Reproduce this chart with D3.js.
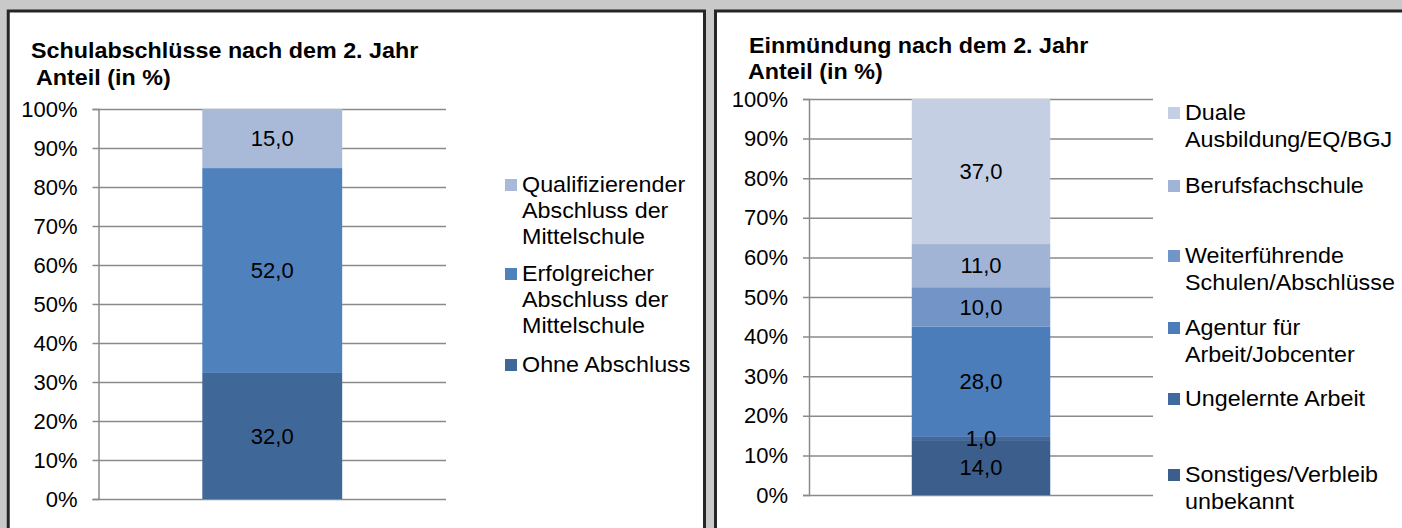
<!DOCTYPE html>
<html>
<head>
<meta charset="utf-8">
<script src="https://d3js.org/d3.v7.min.js"></script>
<style>
  body { margin: 0; background: #c9c9c9; }
  svg { display: block; font-family: "Liberation Sans", Arial, sans-serif; }
</style>
</head>
<body>
<svg width="1402" height="528"></svg>
<script>
// ---- data ----
var yTicks = [0, 10, 20, 30, 40, 50, 60, 70, 80, 90, 100];

// left chart: school leaving certificates, bottom to top
var schulKeys = ["Ohne Abschluss", "Erfolgreicher Abschluss der Mittelschule", "Qualifizierender Abschluss der Mittelschule"];
var schulValues = [32.0, 52.0, 15.0];
var schulLegend = [["Qualifizierender", "Abschluss der", "Mittelschule"], ["Erfolgreicher", "Abschluss der", "Mittelschule"], ["Ohne Abschluss"]];

// right chart: where the pupils went, bottom to top
var einKeys = ["Sonstiges/Verbleib unbekannt", "Ungelernte Arbeit", "Agentur für Arbeit/Jobcenter", "Weiterführende Schulen/Abschlüsse", "Berufsfachschule", "Duale Ausbildung/EQ/BGJ"];
var einValues = [14.0, 1.0, 28.0, 10.0, 11.0, 37.0];
var einLegend = [["Duale", "Ausbildung/EQ/BGJ"], ["Berufsfachschule"], ["Weiterführende", "Schulen/Abschlüsse"], ["Agentur für", "Arbeit/Jobcenter"], ["Ungelernte Arbeit"], ["Sonstiges/Verbleib", "unbekannt"]];

var svg = d3.select("svg");
var STRETCH = 1.06; // the original text is a bit wider than Liberation Sans

// grey page with two framed panels
svg.append("rect").attr("width", 1402).attr("height", 528).attr("fill", "#c9c9c9");
svg.append("rect").attr("x", 8.25).attr("y", 11).attr("width", 696.25).attr("height", 540)
    .attr("fill", "#fff").attr("stroke", "#262626").attr("stroke-width", 3);
svg.append("rect").attr("x", 715.5).attr("y", 11).attr("width", 720).attr("height", 540)
    .attr("fill", "#fff").attr("stroke", "#262626").attr("stroke-width", 3);

function fmt(v) { return d3.format(".1f")(v).replace(".", ","); }

function place(x, y) { return "translate(" + x + "," + y + ") scale(" + STRETCH + ",1)"; }

function drawChart(o) {
  var keys = o.keys;
  var row = {};
  keys.forEach(function(k, i) { row[k] = o.values[i]; });

  // 100% stacked, like the original
  var series = d3.stack().keys(keys).offset(d3.stackOffsetExpand)([row]);

  var y = d3.scaleLinear().domain([0, 100]).range([o.bottom, o.top]);
  var x = d3.scaleBand().domain(["2. Jahr"]).range([o.left, o.right]).padding(0.426);
  var color = d3.scaleOrdinal().domain(keys).range(o.colors);

  var g = svg.append("g");

  // titles
  g.append("text").attr("transform", place(o.titleX, o.titleY))
      .style("font-size", "22px").style("font-weight", "bold").text(o.title);
  g.append("text").attr("transform", place(o.subX, o.subY))
      .style("font-size", "22px").style("font-weight", "bold").text("Anteil (in %)");

  // y axis with gridlines running out of the ticks
  var axis = g.append("g")
      .attr("transform", "translate(" + o.left + ",0)")
      .call(d3.axisLeft(y).tickValues(yTicks).tickFormat(function(d) { return d + "%"; })
            .tickSize(6).tickPadding(15));
  axis.select(".domain").attr("stroke", "#8a8a8a").attr("stroke-width", 1.5);
  axis.selectAll(".tick line").attr("x2", o.right - o.left).attr("x1", -6)
      .attr("stroke", "#8a8a8a").attr("stroke-width", 1.5);
  axis.selectAll(".tick text").style("font-size", "22px").attr("fill", "#000")
      .style("font-family", "'Liberation Sans', Arial, sans-serif");

  // bar segments first, then the value labels on top of all of them
  g.selectAll(".seg").data(series).enter().append("rect")
      .attr("class", "seg")
      .attr("x", x("2. Jahr"))
      .attr("width", x.bandwidth())
      .attr("y", function(d) { return y(d[0][1] * 100); })
      .attr("height", function(d) { return y(d[0][0] * 100) - y(d[0][1] * 100); })
      .attr("fill", function(d) { return color(d.key); });
  g.selectAll(".val").data(series).enter().append("text")
      .attr("class", "val")
      .attr("x", x("2. Jahr") + x.bandwidth() / 2)
      .attr("y", function(d) { return y((d[0][0] + d[0][1]) * 50); })
      .attr("dy", "0.35em")
      .attr("text-anchor", "middle")
      .style("font-size", "22px")
      .text(function(d) { return fmt(o.values[d.index]); });

  // legend (top entry first)
  var leg = g.selectAll(".leg").data(o.legend).enter().append("g").attr("class", "leg");
  leg.append("rect")
      .attr("x", o.legX).attr("y", function(d, i) { return o.legY[i] - 13; })
      .attr("width", 12).attr("height", 12)
      .attr("fill", function(d, i) { return color(keys[keys.length - 1 - i]); });
  leg.append("text")
      .attr("transform", function(d, i) { return place(o.legX + 17, o.legY[i]); })
      .style("font-size", "22px")
      .selectAll("tspan").data(function(d) { return d; }).enter().append("tspan")
      .attr("x", 0)
      .attr("dy", function(d, i) { return i ? o.legLine : 0; })
      .text(function(d) { return d; });
}

drawChart({
  title: "Schulabschlüsse nach dem 2. Jahr",
  keys: schulKeys, values: schulValues, legend: schulLegend,
  colors: ["#3f6898", "#4f81bd", "#a9b9d8"],
  left: 98.5, right: 446, top: 109, bottom: 499,
  titleX: 31, titleY: 57.5, subX: 36, subY: 85,
  legX: 505, legY: [192, 281, 372], legLine: 26
});

drawChart({
  title: "Einmündung nach dem 2. Jahr",
  keys: einKeys, values: einValues, legend: einLegend,
  colors: ["#3b5e8c", "#4169a1", "#4a7dba", "#7294c6", "#a1b4d5", "#c4cfe3"],
  left: 809, right: 1153, top: 99, bottom: 495,
  titleX: 749, titleY: 52.7, subX: 748, subY: 78.5,
  legX: 1168, legY: [120, 193, 263, 335, 406, 482], legLine: 27
});
</script>
</body>
</html>
